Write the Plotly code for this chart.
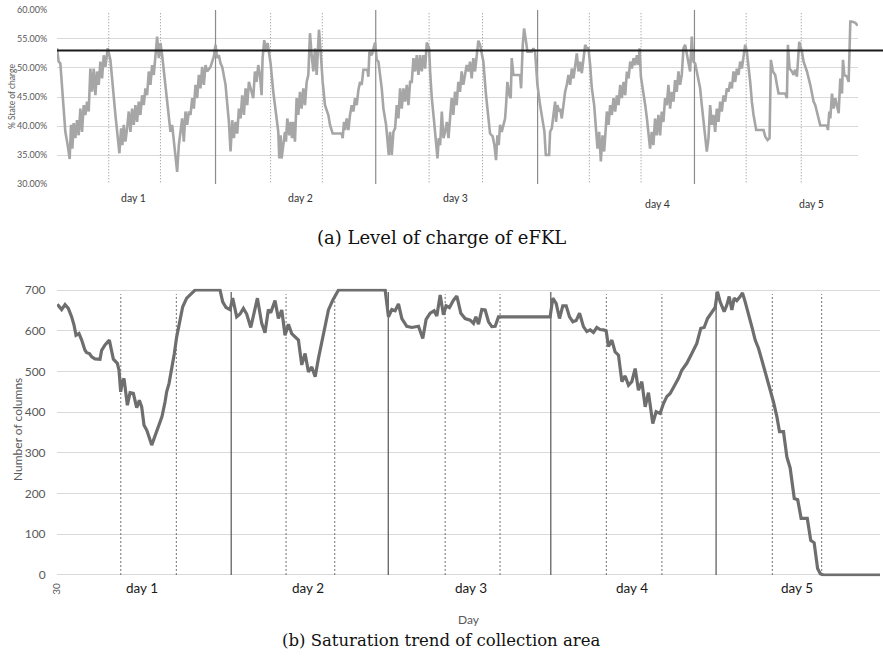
import plotly.graph_objects as go

# ---------------- data ----------------
# (a) state of charge, x = 15-minute step index, y = % state of charge
TOP_T = [0,1,2,5,6.4,7.6,8.4,9.2,10,11,12,13,14,15,16,17,18,19,20,21,22,23,24,25,26,27,28,29,30.4,32,35,36,37.4,38.4,39.2,40,41,42,43,44,45,46,47,48,49,50,51,52,53,54,55,56,57,58,59,60,61,62,63,65,67,68,69,70.4,72,73,74,75,76,77,78,79,80,81,82,83,84,85,86,87,88,89,90,91,92,93,94,95,96,97,98,99,101,103,104,105,106,107,108,109,110,111,112,113,114,115,
         117.6,118.6,119.6,120.6,121.6,122.6,123.2,124.2,125.2,126.2,127.2,128,129.6,131.2,132.6,133.2,134,134.6,135.6,136.6,137.2,138,139.2,140,140.8,141.6,142.6,143.6,144.6,145.6,146.6,147.6,148.6,149.6,150.6,151.6,152.6,153.6,154.6,155.6,156.6,157,158,159.2,160.6,162.6,163.6,165.2,170.6,171.2,172,172.6,173.6,174.6,175.6,176.6,177.6,178.6,179.6,180.6,181.6,182.6,183.6,186,186.6,187.2,188.6,189.6,190.6,191.6,192.6,194.6,195.6,197.2,198,198.8,199.6,200.6,201.6,202.6,203.6,204.6,205.6,206.6,207.6,208.6,209.6,210.6,211.6,212.6,213.6,214.6,215.6,216.6,217.6,218.6,219.6,220.6,221.6,223,223.6,224.6,226,227.2,228,228.8,229.6,230.6,231.6,232.6,233.6,234.6,
         236.5,237.5,238.5,239.5,240.5,241.5,242.5,243.5,244.5,245.5,246.5,247.5,248.5,249.5,250.5,251.5,252.5,253.5,254.5,255.5,257.1,258.5,259.5,261.1,262.1,263.1,263.9,264.7,265.5,266.5,267.5,268.5,269.1,269.9,271.1,271.9,272.5,273.5,277.5,278.1,279.1,279.9,281.1,281.9,284.5,285.5,286.5,287.9,289.5,291.1,292.1,292.9,294.9,295.5,296.5,297.5,298.5,299.1,299.9,300.9,301.5,302.5,303.5,304.5,305.5,306.5,307.5,308.5,309.5,310.5,311.5,312.5,313.5,314.5,315.5,316.5,317.5,318.5,319.5,320.5,321.9,323.1,323.9,324.9,325.9,326.9,327.9,328.7,329.5,330.5,331.5,332.5,333.5,334.5,335.5,336.5,337.5,338.5,339.5,340.5,341.5,342.5,343.5,344.5,345.5,346.5,347.5,348.5,349.1,349.9,351.1,352.5,353.5,354.5,
         355.4,356.4,357.4,358.4,359.4,360.4,361.4,362.4,363.4,364.4,365.4,366.4,367.4,368.4,369.4,370.4,371.4,372.4,373.4,374.4,375.4,376.4,377.4,378.4,379.4,380.4,381.4,382.4,384.4,385.4,386.4,387.4,388.4,389.4,390.4,391.4,392.4,393.4,394.4,395.4,396.4,397.4,398.4,399.4,400.4,401.4,402.4,403.4,404.4,405.4,406.4,407.4,408.4,409.4,410.4,411.4,412.4,413.4,414.4,415.4,416.4,417.4,419,423.4,424.4,425.8,427,427.8,429,430.4,431.4,432.4,436.4,437.4,438,439,440.4,441.4,442.4,443.4,444.8,446.4,447.4,448.4,449.4,451.4,452.4,453.4,454.4,455.4,456.4,457.4,461.4,462,462.8,463.4,464.4,465.4,466.4,467.4,468.4,469.4,470.4,471,471.8,473.4,474.4,475.4,476.4,478.4,479.8]
TOP_SOC = [53.4,51.1,50.8,39.0,36.7,34.3,40.2,36.1,40.5,37.9,41.0,38.4,43.0,39.0,43.6,41.9,44.2,42.5,49.9,45.9,49.9,45.3,49.4,47.1,51.1,48.2,52.2,50.2,53.4,51.4,41.9,39.0,35.3,39.6,36.7,40.2,37.3,39.6,42.5,39.0,43.0,40.2,43.6,40.7,44.2,41.9,45.3,43.6,46.5,45.3,49.4,47.1,50.5,48.8,52.2,55.4,51.7,54.3,52.2,46.5,41.3,39.0,40.2,36.7,32.1,36.7,39.0,41.3,37.3,42.5,40.2,42.5,41.9,44.8,43.0,47.1,44.8,48.8,46.5,50.2,47.1,50.5,49.4,49.9,50.2,51.1,52.0,54.0,51.7,52.2,50.8,50.2,47.1,40.7,35.6,41.0,37.9,40.7,38.7,43.0,41.3,45.3,41.9,46.5,43.6,47.6,
           44.8,49.4,47.6,50.5,48.8,45.3,51.7,54.8,52.8,54.3,52.2,50.8,45.9,41.9,39.0,34.4,38.4,34.4,37.3,39.0,37.3,41.3,38.4,40.7,37.9,40.7,37.3,44.8,41.9,45.9,43.0,46.5,43.6,47.6,48.8,56.0,52.2,49.4,53.4,48.8,54.5,56.6,52.8,47.6,43.6,41.9,40.2,38.7,38.7,37.9,40.7,39.3,41.3,39.3,41.9,43.6,42.5,44.8,43.6,46.2,47.6,47.1,49.7,49.7,48.5,52.8,52.2,53.4,54.4,51.4,51.1,46.5,43.0,40.2,37.9,35.0,39.0,35.0,39.0,39.6,43.6,41.3,46.5,43.0,46.5,44.2,47.1,43.6,47.6,47.6,51.7,49.4,52.2,48.8,52.2,49.4,52.2,49.9,54.4,53.4,49.4,44.8,40.7,37.3,34.4,37.9,36.7,42.5,37.9,39.0,40.7,37.9,
           44.8,41.9,45.9,43.6,47.6,45.9,49.4,47.1,48.8,50.5,49.4,51.1,48.2,51.7,49.4,52.2,54.7,54.0,52.8,51.1,45.3,41.9,38.7,38.2,36.7,34.1,38.4,36.7,40.2,39.0,40.2,41.3,43.6,47.6,45.3,44.8,51.7,48.8,48.8,46.5,54.0,56.8,54.5,52.8,52.8,53.4,52.8,47.1,43.6,40.7,39.0,35.0,35.0,39.0,39.6,41.9,44.2,40.7,43.6,42.5,43.0,41.3,43.6,45.9,47.1,48.8,47.1,49.9,48.2,50.5,52.5,49.4,51.1,49.1,51.4,54.0,53.4,53.4,50.5,46.5,43.6,39.0,36.1,39.0,33.9,38.4,35.6,39.0,42.5,40.2,43.6,41.9,44.8,42.5,45.3,43.6,47.1,44.8,47.6,45.3,49.4,48.2,51.1,49.9,51.7,50.5,52.2,50.5,53.4,48.5,46.5,43.6,41.3,39.0,
           36.1,39.0,36.7,41.3,38.4,41.9,38.4,42.5,40.7,44.8,43.6,47.1,43.0,45.9,44.2,47.9,45.9,49.4,47.1,48.8,53.4,54.0,52.2,51.1,49.4,55.4,51.1,50.8,47.6,46.5,43.6,40.7,37.3,35.6,37.9,43.6,40.2,41.9,39.0,43.0,40.7,44.2,42.5,45.3,44.2,46.5,45.9,47.6,46.5,49.4,47.6,49.9,48.8,51.1,49.9,52.2,54.0,52.8,50.5,47.6,44.2,41.9,39.3,39.3,38.2,37.6,37.9,51.4,49.4,48.8,47.1,45.6,45.6,44.8,54.0,49.9,49.4,48.8,49.7,48.5,54.5,52.8,51.1,50.2,49.4,47.1,45.6,44.2,43.6,42.5,41.3,40.1,40.1,39.3,42.5,41.3,45.6,43.0,44.8,43.6,42.2,48.2,45.6,51.4,48.8,48.5,47.6,58.0,58.0,57.8,57.3]
THRESHOLD = 53.0
TOP_DOTTED = [31, 62, 128, 159, 223, 255, 319, 350, 413, 446]
TOP_SOLID = [95, 191, 288, 382]
TOP_YTICKS = [30, 35, 40, 45, 50, 55, 60]
TOP_YTEXT = ["30.00%", "35.00%", "40.00%", "45.00%", "50.00%", "55.00%", "60.00%"]

# (b) saturation, x = hours, y = number of columns
BOT_H = [0.05,0.44,0.68,1.17,1.65,2.14,2.48,2.77,3.21,3.60,4.08,4.33,4.72,5.06,5.54,6.27,6.51,7.00,7.63,8.22,8.80,9.04,9.29,9.53,9.77,10.26,10.65,11.13,11.62,12.01,12.35,12.69,13.08,13.42,13.81,14.15,14.54,14.92,15.31,15.75,15.99,16.33,16.72,17.11,17.45,17.84,18.33,18.91,19.64,20.13,23.77,24.16,24.65,25.23,25.62,26.20,26.69,27.18,27.66,28.25,28.73,29.22,29.85,30.33,30.82,31.16,31.79,32.28,32.77,33.25,33.74,34.22,
         35.20,35.69,36.17,36.66,37.15,37.64,38.12,38.85,39.58,40.21,40.80,41.04,47.85,48.33,48.82,49.30,49.79,50.28,51.00,51.73,52.71,53.33,53.82,54.41,54.99,55.38,55.87,56.35,56.74,57.22,57.81,58.30,58.88,59.51,60.24,60.73,61.07,61.46,61.94,62.43,62.92,63.40,63.89,64.37,71.90,72.29,72.78,73.27,73.75,74.24,74.73,75.21,75.70,76.19,
         76.76,77.25,77.74,78.22,78.71,79.19,79.68,80.07,80.41,80.90,81.38,81.87,82.36,82.84,83.33,83.81,84.30,84.78,85.27,85.76,86.24,86.87,87.36,87.94,88.43,88.91,89.40,89.89,90.62,91.10,91.83,92.56,93.29,93.87,94.36,94.85,95.48,95.96,96.30,96.69,97.28,97.67,98.01,98.40,98.74,99.12,99.61,99.95,100.34,100.83,101.31,101.80,102.28,102.77,103.26,103.74,104.08,104.47,104.96,105.35,105.93,106.42,106.90,107.5,108.0,108.5,109.4,109.9,110.4,110.9,111.3,111.7,120.0]
BOT_COLS = [665,657,652,664,655,634,614,589,593,577,552,546,544,536,531,530,552,565,577,530,520,503,450,475,483,417,448,446,411,429,413,368,356,339,319,335,352,368,389,425,450,470,503,544,585,618,659,680,693,700,700,671,657,652,680,634,641,655,641,608,643,680,618,595,652,644,674,630,651,589,616,593,
            577,516,544,499,511,487,532,589,651,675,696,700,700,634,652,649,666,630,611,608,611,581,628,643,649,636,688,639,661,657,675,685,643,630,626,618,634,616,652,651,622,610,611,634,634,680,667,630,661,661,634,622,625,643,
            610,598,602,596,608,603,602,600,561,577,548,540,475,489,466,475,507,454,475,413,448,372,401,397,421,438,446,462,483,503,520,544,569,606,608,630,647,657,696,671,647,663,684,651,680,674,684,693,671,643,610,577,557,528,499,466,446,425,389,352,352,290,263,188,185,139,139,85,79,16,3,0,0]
BOT_DOTTED = [9.3, 17.4, 33.4, 40.5, 56.6, 64.6, 80.1, 88.2, 104.3, 111.5]
BOT_SOLID = [25.4, 48.3, 72.0, 96.1]
BOT_XTICK_VALS = [0]
BOT_XTICK_TEXT = ["30"]

DAY_LABELS = ["day 1", "day 2", "day 3", "day 4", "day 5"]

# ---------------- figure ----------------
W, H = 883, 658
ML, MR, MT, MB = 57, 3, 9, 81
IW, IH = W - ML - MR, H - MT - MB
def px(x):
    return (x - ML) / IW
def py(y):
    return (H - MB - y) / IH

FONT = "Lato"
fig = go.Figure()

fig.add_trace(go.Scatter(x=TOP_T, y=TOP_SOC, mode="lines", xaxis="x", yaxis="y",
                         line=dict(color="#a6a6a6", width=2.6), showlegend=False, hoverinfo="skip"))
fig.add_trace(go.Scatter(x=BOT_H, y=BOT_COLS, mode="lines", xaxis="x2", yaxis="y2",
                         line=dict(color="#6e6e6e", width=3.2), showlegend=False, hoverinfo="skip"))

shapes = []
for xv in TOP_DOTTED:
    shapes.append(dict(type="line", xref="x", yref="y", x0=xv, x1=xv, y0=30.3, y1=59.6,
                       line=dict(color="#8c8c8c", width=1, dash="1px,2px"), layer="between"))
for xv in TOP_SOLID:
    shapes.append(dict(type="line", xref="x", yref="y", x0=xv, x1=xv, y0=30, y1=60,
                       line=dict(color="#8c8c8c", width=1.2), layer="between"))
shapes.append(dict(type="line", xref="paper", yref="y", x0=0, x1=px(W), y0=THRESHOLD, y1=THRESHOLD,
                   line=dict(color="#1a1a1a", width=2), layer="above"))
for xv in BOT_DOTTED:
    shapes.append(dict(type="line", xref="x2", yref="y2", x0=xv, x1=xv, y0=0, y1=690,
                       line=dict(color="#707070", width=1, dash="2px,2px"), layer="between"))
for xv in BOT_SOLID:
    shapes.append(dict(type="line", xref="x2", yref="y2", x0=xv, x1=xv, y0=0, y1=695,
                       line=dict(color="#555555", width=1.2), layer="between"))

annotations = []
top_day_x = [46, 146, 238.5, 360, 452]
top_day_y = [198, 198, 198, 204, 204]
for t, xv, yv in zip(DAY_LABELS, top_day_x, top_day_y):
    annotations.append(dict(text=t, x=xv, y=py(yv), xref="x", yref="paper", showarrow=False,
                            font=dict(family=FONT, size=10.5, color="#333333"), xanchor="center", yanchor="middle"))
bot_day_x = [12.4, 36.6, 60.4, 83.8, 107.9]
for t, xv in zip(DAY_LABELS, bot_day_x):
    annotations.append(dict(text=t, x=xv, y=py(588), xref="x2", yref="paper", showarrow=False,
                            font=dict(family=FONT, size=13.5, color="#1a1a1a"), xanchor="center", yanchor="middle"))
annotations += [
    dict(text="% State of charge", x=px(12), y=py(97), xref="paper", yref="paper", showarrow=False,
         textangle=-90, xanchor="center", yanchor="middle", font=dict(family=FONT, size=8.5, color="#595959")),
    dict(text="Number of columns", x=px(17), y=py(430), xref="paper", yref="paper", showarrow=False,
         textangle=-90, xanchor="center", yanchor="middle", font=dict(family=FONT, size=12, color="#595959")),
    dict(text="Day", x=px(469), y=py(619), xref="paper", yref="paper", showarrow=False,
         xanchor="center", yanchor="middle", font=dict(family=FONT, size=12, color="#595959")),
    dict(text="(a) Level of charge of eFKL", x=px(441), y=py(238), xref="paper", yref="paper", showarrow=False,
         xanchor="center", yanchor="middle", font=dict(family="DejaVu Serif", size=18, color="#111111")),
    dict(text="(b) Saturation trend of collection area", x=px(441), y=py(640), xref="paper", yref="paper",
         showarrow=False, xanchor="center", yanchor="middle",
         font=dict(family="DejaVu Serif", size=16.5, color="#111111")),
]

fig.update_layout(
    width=W, height=H,
    margin=dict(l=ML, r=MR, t=MT, b=MB, autoexpand=False),
    paper_bgcolor="white", plot_bgcolor="white",
    showlegend=False,
    xaxis=dict(domain=[0, px(858)], range=[0, 480], showgrid=False, zeroline=False,
               showticklabels=False, showline=False, anchor="y", automargin=False),
    yaxis=dict(domain=[py(184.6), py(9.4)], range=[29.9, 60.1], tickvals=TOP_YTICKS, ticktext=TOP_YTEXT,
               showgrid=True, gridcolor="#d9d9d9", gridwidth=1, zeroline=False, showline=False,
               ticks="outside", ticklen=7, tickcolor="rgba(0,0,0,0)", automargin=False,
               tickfont=dict(family=FONT, size=9, color="#595959"), anchor="x"),
    xaxis2=dict(domain=[0, 1], range=[0, 120], showgrid=False, zeroline=False, showline=False,
                tickvals=BOT_XTICK_VALS, ticktext=BOT_XTICK_TEXT, tickangle=-90,
                ticks="outside", ticklen=2, tickcolor="rgba(0,0,0,0)", automargin=False,
                tickfont=dict(family=FONT, size=10, color="#595959"), anchor="y2"),
    yaxis2=dict(domain=[max(0, py(576.2)), py(288.8)], range=[-3, 703], dtick=100, tick0=0,
                showgrid=True, gridcolor="#d9d9d9", gridwidth=1, zeroline=False, showline=False,
                ticks="outside", ticklen=8, tickcolor="rgba(0,0,0,0)", automargin=False,
                tickfont=dict(family=FONT, size=12, color="#595959"), anchor="x2"),
    shapes=shapes,
    annotations=annotations,
)

fig.write_html("out.html", config={"displayModeBar": False},
               post_script="document.body.style.margin='0';document.body.style.padding='0';"
                           "document.documentElement.style.overflow='hidden';")
